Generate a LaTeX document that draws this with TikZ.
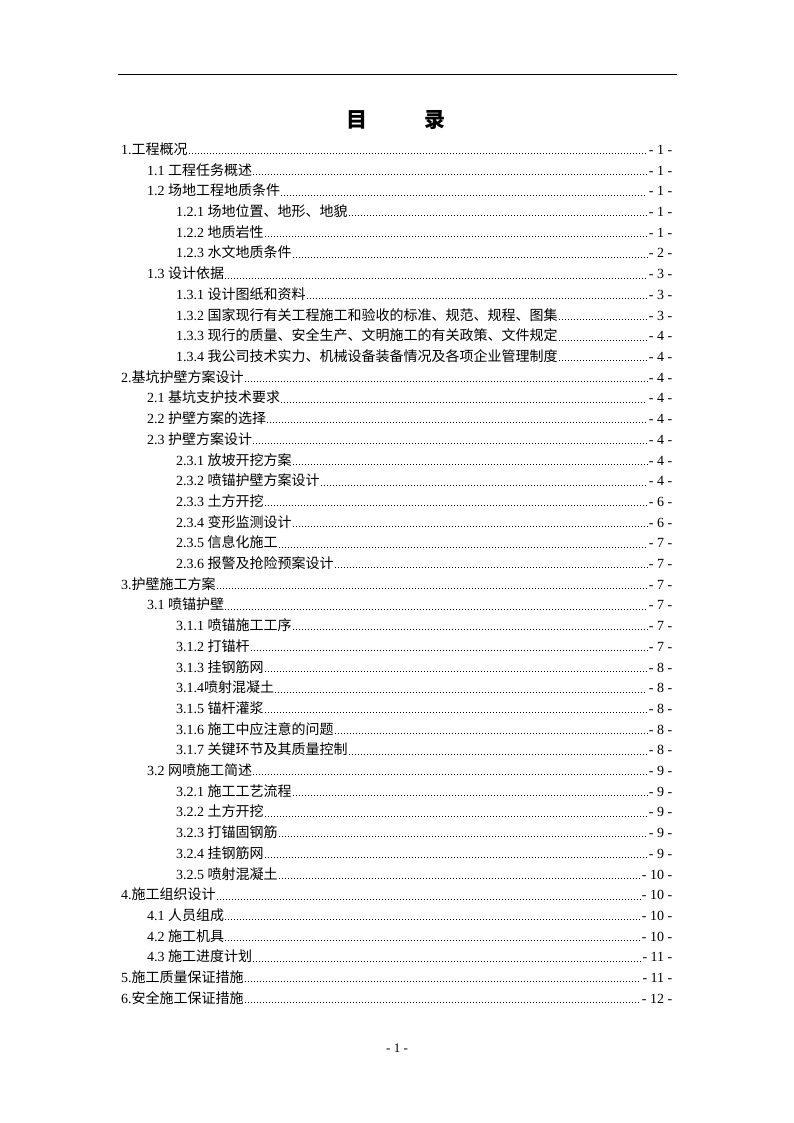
\documentclass[tikz,border=0pt]{standalone}
\usepackage{fontspec}
\setmainfont{Liberation Serif}
\newfontfamily\cjk{Noto Sans CJK SC}
\tikzset{
  toctext/.style={inner sep=0pt, anchor=base west, font=\fontsize{14}{16}\selectfont},
  tocpage/.style={inner sep=0pt, anchor=base east, font=\fontsize{14}{16}\selectfont},
  leader/.style={line width=0.9pt, dash pattern=on 0.9pt off 2.1pt},
  rule/.style={line width=1.2pt},
  titletext/.style={inner sep=0pt, font=\cjk\bfseries\fontsize{21}{24}\selectfont},
  footer/.style={inner sep=0pt, anchor=base, font=\fontsize{13}{15}\selectfont}
}
\newcommand\tocrow[5]{%
  \node[toctext] (t#1) at (#2, {154.5+20.7*(#1-1)}) {#3{\cjk #4}};
  \node[tocpage] (p#1) at (672.5, {154.5+20.7*(#1-1)}) {#5};
  \draw[leader] ([xshift=1pt,yshift=0.7pt]t#1.base east) -- ([xshift=-1.5pt,yshift=0.7pt]p#1.base west);
}
\begin{document}
\begin{tikzpicture}[x=1pt,y=-1pt]
\useasboundingbox (0,0) rectangle (794,1123);
\coordinate (hl) at (118,74.3);
\coordinate (hr) at (677,74.3);
\draw[rule] (hl) -- (hr);
\node[titletext] (ti1) at (356.5,119.5) {目};
\node[titletext] (ti2) at (435,119.5) {录};
\tocrow{1}{121}{1.}{工程概况}{- 1 -}
\tocrow{2}{147}{1.1 }{工程任务概述}{- 1 -}
\tocrow{3}{147}{1.2 }{场地工程地质条件}{- 1 -}
\tocrow{4}{176}{1.2.1 }{场地位置、地形、地貌}{- 1 -}
\tocrow{5}{176}{1.2.2 }{地质岩性}{- 1 -}
\tocrow{6}{176}{1.2.3 }{水文地质条件}{- 2 -}
\tocrow{7}{147}{1.3 }{设计依据}{- 3 -}
\tocrow{8}{176}{1.3.1 }{设计图纸和资料}{- 3 -}
\tocrow{9}{176}{1.3.2 }{国家现行有关工程施工和验收的标准、规范、规程、图集}{- 3 -}
\tocrow{10}{176}{1.3.3 }{现行的质量、安全生产、文明施工的有关政策、文件规定}{- 4 -}
\tocrow{11}{176}{1.3.4 }{我公司技术实力、机械设备装备情况及各项企业管理制度}{- 4 -}
\tocrow{12}{121}{2.}{基坑护壁方案设计}{- 4 -}
\tocrow{13}{147}{2.1 }{基坑支护技术要求}{- 4 -}
\tocrow{14}{147}{2.2 }{护壁方案的选择}{- 4 -}
\tocrow{15}{147}{2.3 }{护壁方案设计}{- 4 -}
\tocrow{16}{176}{2.3.1 }{放坡开挖方案}{- 4 -}
\tocrow{17}{176}{2.3.2 }{喷锚护壁方案设计}{- 4 -}
\tocrow{18}{176}{2.3.3 }{土方开挖}{- 6 -}
\tocrow{19}{176}{2.3.4 }{变形监测设计}{- 6 -}
\tocrow{20}{176}{2.3.5 }{信息化施工}{- 7 -}
\tocrow{21}{176}{2.3.6 }{报警及抢险预案设计}{- 7 -}
\tocrow{22}{121}{3.}{护壁施工方案}{- 7 -}
\tocrow{23}{147}{3.1 }{喷锚护壁}{- 7 -}
\tocrow{24}{176}{3.1.1 }{喷锚施工工序}{- 7 -}
\tocrow{25}{176}{3.1.2 }{打锚杆}{- 7 -}
\tocrow{26}{176}{3.1.3 }{挂钢筋网}{- 8 -}
\tocrow{27}{176}{3.1.4}{喷射混凝土}{- 8 -}
\tocrow{28}{176}{3.1.5 }{锚杆灌浆}{- 8 -}
\tocrow{29}{176}{3.1.6 }{施工中应注意的问题}{- 8 -}
\tocrow{30}{176}{3.1.7 }{关键环节及其质量控制}{- 8 -}
\tocrow{31}{147}{3.2 }{网喷施工简述}{- 9 -}
\tocrow{32}{176}{3.2.1 }{施工工艺流程}{- 9 -}
\tocrow{33}{176}{3.2.2 }{土方开挖}{- 9 -}
\tocrow{34}{176}{3.2.3 }{打锚固钢筋}{- 9 -}
\tocrow{35}{176}{3.2.4 }{挂钢筋网}{- 9 -}
\tocrow{36}{176}{3.2.5 }{喷射混凝土}{- 10 -}
\tocrow{37}{121}{4.}{施工组织设计}{- 10 -}
\tocrow{38}{147}{4.1 }{人员组成}{- 10 -}
\tocrow{39}{147}{4.2 }{施工机具}{- 10 -}
\tocrow{40}{147}{4.3 }{施工进度计划}{- 11 -}
\tocrow{41}{121}{5.}{施工质量保证措施}{- 11 -}
\tocrow{42}{121}{6.}{安全施工保证措施}{- 12 -}
\node[footer] (pg) at (397,1052.5) {- 1 -};
\end{tikzpicture}
\end{document}
